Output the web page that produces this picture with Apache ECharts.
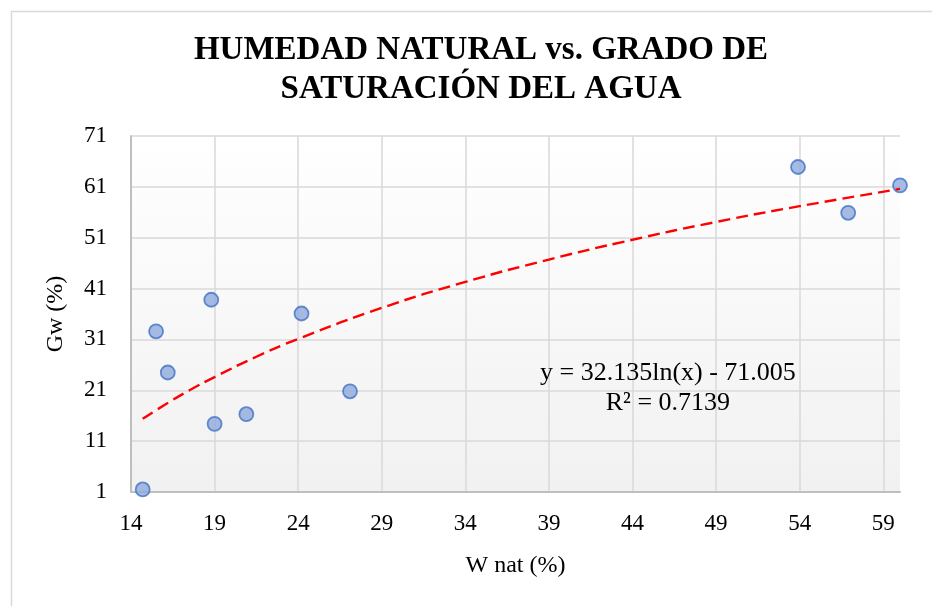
<!DOCTYPE html>
<html>
<head>
<meta charset="utf-8">
<script src="https://cdn.jsdelivr.net/npm/echarts@6/dist/echarts.min.js"></script>
<style>
    html, body { margin: 0; padding: 0; background: #fff; }
    #chart { width: 932px; height: 606px; }
</style>
</head>
<body>
<div id="chart"></div>
<script>
// measured points (W nat %, Gw %)
var wNat = [14.7, 15.5, 16.2, 18.8, 19.0, 20.9, 24.2, 27.1, 53.9, 56.9, 60.0];
var gw = [1.5, 32.6, 24.5, 38.8, 14.4, 16.3, 36.1, 20.8, 64.9, 55.9, 61.3];

// logarithmic trend line
var trendX = [14.7, 16, 17.5, 19, 21.5, 24, 29, 34, 39, 44, 49, 54, 60.0];
var trendY = [15.4, 18.1, 21.0, 23.6, 27.6, 31.1, 37.2, 42.3, 46.7, 50.6, 54.1, 57.2, 60.6];

var titleText = 'HUMEDAD NATURAL vs. GRADO DE\nSATURACIÓN DEL AGUA';
var equationText = 'y = 32.135ln(x) - 71.005\nR² = 0.7139';

var points = wNat.map(function (x, i) { return [x, gw[i]]; });
var trend = trendX.map(function (x, i) { return [x, trendY[i]]; });

var serif = '"Liberation Serif", "DejaVu Serif", serif';
var chart = echarts.init(document.getElementById('chart'));

var option = {
    backgroundColor: '#fff',
    animation: false,
    title: {
        text: titleText,
        left: 476,
        top: 26,
        textAlign: 'center',
        textStyle: {
            fontFamily: serif,
            fontWeight: 'bold',
            fontSize: 33,
            lineHeight: 39,
            color: '#000'
        }
    },
    grid: {
        left: 131,
        top: 136,
        right: 32,
        bottom: 114,
        show: true,
        borderWidth: 0,
        backgroundColor: new echarts.graphic.LinearGradient(0, 0, 0, 1, [
            { offset: 0, color: '#ffffff' },
            { offset: 1, color: '#f1f1f1' }
        ])
    },
    xAxis: {
        type: 'value',
        min: 14,
        max: 60,
        interval: 5,
        name: 'W nat (%)',
        nameLocation: 'middle',
        nameGap: 62,
        nameTextStyle: { fontFamily: serif, fontSize: 24, color: '#000' },
        axisLine: { lineStyle: { color: '#bfbfbf', width: 2 } },
        axisTick: { show: false },
        axisLabel: {
            fontFamily: serif, fontSize: 23, color: '#000', margin: 20,
            showMaxLabel: false
        },
        splitLine: { showMaxLine: false, lineStyle: { color: '#d9d9d9', width: 1.5 } }
    },
    yAxis: {
        type: 'value',
        min: 1,
        max: 71,
        interval: 10,
        name: 'Gw (%)',
        nameLocation: 'middle',
        nameGap: 63,
        nameRotate: 90,
        nameTextStyle: { fontFamily: serif, fontSize: 24, color: '#000' },
        axisLine: { show: true, lineStyle: { color: '#bfbfbf', width: 2 } },
        axisTick: { show: false },
        axisLabel: { fontFamily: serif, fontSize: 23, color: '#000', margin: 24 },
        splitLine: { lineStyle: { color: '#d9d9d9', width: 1.5 } }
    },
    series: [
        {
            name: 'Gw',
            type: 'scatter',
            symbol: 'circle',
            symbolSize: 14,
            itemStyle: {
                color: '#8faadc',
                borderColor: '#4472c4',
                borderWidth: 1.8
            },
            data: points
        },
        {
            name: 'Tendencia',
            type: 'line',
            smooth: true,
            showSymbol: false,
            symbol: 'none',
            z: 5,
            lineStyle: {
                color: '#ff0000',
                width: 2.4,
                type: [12, 6]
            },
            data: trend
        }
    ],
    graphic: [
        {
            type: 'rect',
            left: 9,
            top: 9,
            shape: { width: 940, height: 620 },
            style: { fill: 'none', stroke: '#d9d9d9', lineWidth: 1.5 },
            silent: true,
            z: -1
        },
        {
            type: 'text',
            left: 540,
            top: 358,
            style: {
                text: equationText,
                fontFamily: serif,
                fontSize: 26,
                lineHeight: 30,
                textAlign: 'center',
                fill: '#000'
            },
            z: 10
        }
    ]
};

chart.setOption(option);
window.addEventListener('resize', function () { chart.resize(); });
</script>
</body>
</html>
